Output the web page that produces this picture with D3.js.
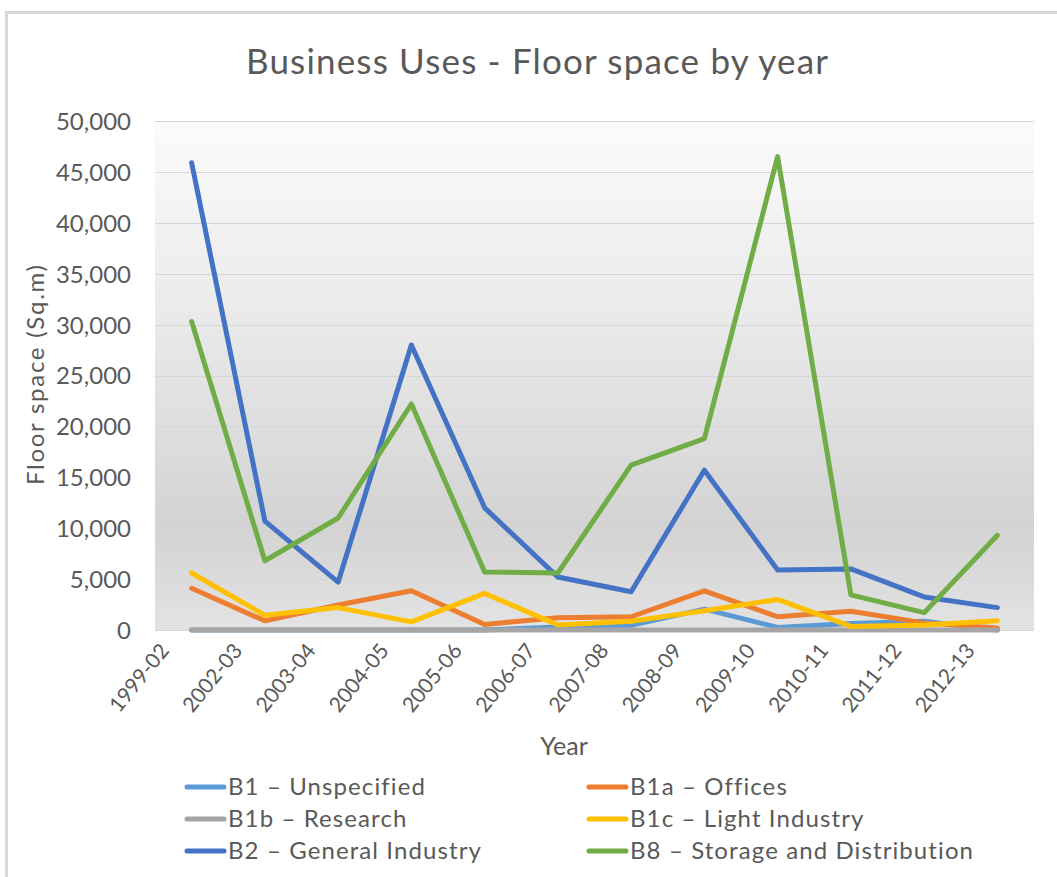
<!DOCTYPE html>
<html>
<head>
<meta charset="utf-8">
<script src="https://cdn.jsdelivr.net/npm/d3@7"></script>
<style>
  html, body { margin: 0; padding: 0; background: #ffffff; }
  svg { display: block; }
  text { font-family: Lato, "Open Sans", sans-serif; fill: #595959; }
</style>
</head>
<body>
<svg id="chart" width="1057" height="877"></svg>
<script>
// Financial years on the category axis
const years = ["1999-02", "2002-03", "2003-04", "2004-05", "2005-06", "2006-07",
               "2007-08", "2008-09", "2009-10", "2010-11", "2011-12", "2012-13"];

// Floor space (sq.m) per use class
const b1Unspecified = [0, 0, 0, 0, 0, 300, 450, 2050, 250, 650, 850, 0];
const b1aOffices    = [4100, 900, 2450, 3850, 550, 1200, 1300, 3850, 1300, 1850, 700, 200];
const b1bResearch   = [0, 0, 0, 0, 0, 0, 0, 0, 0, 0, 0, 0];
const b1cLightInd   = [5600, 1450, 2200, 800, 3600, 500, 850, 1900, 3000, 350, 500, 900];
const b2GeneralInd  = [45900, 10700, 4700, 28000, 12000, 5200, 3750, 15700, 5900, 6000, 3250, 2200];
const b8Storage     = [30300, 6800, 11000, 22200, 5700, 5600, 16200, 18800, 46500, 3450, 1700, 9300];

const seriesNames = ["B1 \u2013 Unspecified", "B1a \u2013 Offices", "B1b \u2013 Research",
                     "B1c \u2013 Light Industry", "B2 \u2013 General Industry",
                     "B8 \u2013 Storage and Distribution"];
const seriesColors = ["#5B9BD5", "#ED7D31", "#A5A5A5", "#FFC000", "#4472C4", "#70AD47"];
const seriesValues = [b1Unspecified, b1aOffices, b1bResearch, b1cLightInd, b2GeneralInd, b8Storage];

const yTicks = [0, 5000, 10000, 15000, 20000, 25000, 30000, 35000, 40000, 45000, 50000];

const svg = d3.select("#chart");

// chart frame (top and left edges visible)
svg.append("path")
  .attr("d", "M6.5,877 L6.5,12.5 L1057,12.5")
  .attr("fill", "none")
  .attr("stroke", "#d9d9d9")
  .attr("stroke-width", 3);

const plot = { left: 155, right: 1034, top: 121, bottom: 630 };

const x = d3.scalePoint().domain(years).range([plot.left, plot.right]).padding(0.5);
const y = d3.scaleLinear().domain([0, 50000]).range([plot.bottom, plot.top]);

// plot area gradient fill
const defs = svg.append("defs");
const grad = defs.append("linearGradient")
  .attr("id", "plotFill").attr("x1", 0).attr("y1", 0).attr("x2", 0).attr("y2", 1);
grad.append("stop").attr("offset", "0%").attr("stop-color", "#fbfbfb");
grad.append("stop").attr("offset", "40%").attr("stop-color", "#e9e9e9");
grad.append("stop").attr("offset", "80%").attr("stop-color", "#d3d3d3");
grad.append("stop").attr("offset", "100%").attr("stop-color", "#e3e3e3");

svg.append("rect")
  .attr("x", plot.left).attr("y", plot.top)
  .attr("width", plot.right - plot.left).attr("height", plot.bottom - plot.top)
  .attr("fill", "url(#plotFill)");

// horizontal gridlines
svg.append("g")
  .selectAll("line")
  .data(yTicks)
  .join("line")
  .attr("x1", plot.left).attr("x2", plot.right)
  .attr("y1", d => Math.round(y(d)) + 0.5).attr("y2", d => Math.round(y(d)) + 0.5)
  .attr("stroke", "#d6d6d6")
  .attr("stroke-width", 1);

// y axis labels
const yAxis = d3.axisLeft(y).tickValues(yTicks).tickFormat(d3.format(",")).tickSize(0).tickPadding(0);
const gy = svg.append("g").attr("transform", `translate(131,0)`).call(yAxis);
gy.select(".domain").remove();
gy.selectAll("text")
  .attr("font-size", 24)
  .attr("font-family", "Lato, sans-serif")
  .attr("fill", "#595959")
  .attr("dy", "0.35em");

// x axis labels, rotated
const xAxis = d3.axisBottom(x).tickSize(0).tickPadding(0);
const gx = svg.append("g").attr("transform", `translate(0,${plot.bottom})`).call(xAxis);
gx.select(".domain").remove();
gx.selectAll("text")
  .attr("font-size", 21)
  .attr("font-family", "Lato, sans-serif")
  .attr("fill", "#595959")
  .attr("text-anchor", "end")
  .attr("dy", null)
  .attr("y", 0)
  .attr("transform", "translate(-22,21) rotate(-51)");

// series lines
const line = d3.line()
  .x((d, i) => x(years[i]))
  .y(d => y(d));

svg.append("g")
  .selectAll("path")
  .data(seriesValues)
  .join("path")
  .attr("d", d => line(d))
  .attr("fill", "none")
  .attr("stroke", (d, i) => seriesColors[i])
  .attr("stroke-width", 5)
  .attr("stroke-linejoin", "round")
  .attr("stroke-linecap", "round");

// titles
svg.append("text")
  .attr("x", 537).attr("y", 74)
  .attr("text-anchor", "middle")
  .attr("font-size", 35)
  .attr("textLength", 582)
  .attr("lengthAdjust", "spacing")
  .text("Business Uses - Floor space by year");

svg.append("text")
  .attr("transform", "translate(44,375) rotate(-90)")
  .attr("text-anchor", "middle")
  .attr("font-size", 24)
  .attr("textLength", 220)
  .attr("lengthAdjust", "spacing")
  .text("Floor space (Sq.m)");

svg.append("text")
  .attr("x", 564).attr("y", 755)
  .attr("text-anchor", "middle")
  .attr("font-size", 25)
  .text("Year");

// legend, two columns by three rows
const legendCols = [187, 589];
const legendRows = [787, 819, 851];
const legend = svg.append("g")
  .selectAll("g")
  .data(seriesNames)
  .join("g")
  .attr("transform", (d, i) => `translate(${legendCols[i % 2]},${legendRows[Math.floor(i / 2)]})`);

legend.append("line")
  .attr("x1", 0).attr("x2", 37).attr("y1", 0).attr("y2", 0)
  .attr("stroke", (d, i) => seriesColors[i])
  .attr("stroke-width", 5)
  .attr("stroke-linecap", "round");

legend.append("text")
  .attr("x", 41).attr("y", 0).attr("dy", "0.35em")
  .attr("font-size", 24)
  .attr("letter-spacing", 1.1)
  .text(d => d);
</script>
</body>
</html>
